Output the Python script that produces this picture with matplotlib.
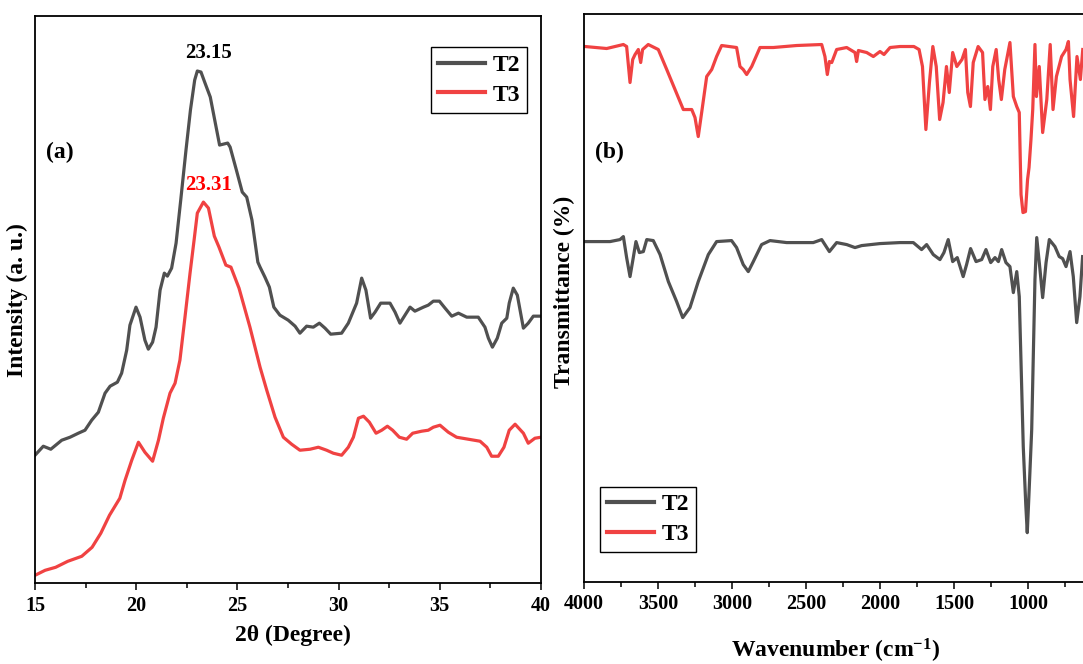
import matplotlib
matplotlib.use("Agg")
import matplotlib.pyplot as plt
from matplotlib.ticker import MultipleLocator, FixedLocator

# ---------------- data ----------------
# (a) XRD, intensity in arbitrary units
xrd_theta_T2 = [15.00, 15.41, 15.78, 16.32, 16.73, 17.14, 17.47, 17.80, 18.13, 18.46,
                18.71, 19.07, 19.28, 19.53, 19.69, 19.99, 20.19, 20.43, 20.60, 20.81,
                20.98, 21.18, 21.39, 21.54, 21.75, 21.97, 22.20, 22.46, 22.68, 22.89,
                23.02, 23.20, 23.40, 23.66, 23.88, 24.12, 24.52, 24.64, 24.95, 25.24,
                25.46, 25.72, 26.01, 26.12, 26.36, 26.58, 26.80, 27.10, 27.51, 27.85,
                28.09, 28.42, 28.75, 29.05, 29.33, 29.61, 30.15, 30.48, 30.89, 31.14,
                31.35, 31.58, 31.80, 32.08, 32.54, 32.79, 33.03, 33.28, 33.53, 33.77,
                34.19, 34.43, 34.68, 34.98, 35.26, 35.59, 35.92, 36.33, 36.90, 37.23,
                37.40, 37.60, 37.84, 38.06, 38.31, 38.43, 38.63, 38.83, 39.13, 39.37,
                39.62, 40.00]
xrd_T2 = [128, 137, 134, 143, 146, 150, 153, 163, 171, 190,
          197, 201, 210, 233, 258, 276, 266, 243, 234, 241,
          256, 293, 310, 307, 315, 340, 383, 433, 473, 503,
          512, 511, 500, 486, 463, 438, 440, 436, 413, 391,
          386, 363, 321, 316, 306, 296, 276, 268, 263, 257,
          250, 257, 256, 260, 255, 249, 250, 260, 280, 305,
          293, 265, 271, 280, 280, 271, 260, 268, 276, 272,
          276, 278, 282, 282, 275, 267, 270, 266, 266, 256,
          245, 236, 245, 260, 265, 280, 295, 288, 255, 260,
          267, 267]

xrd_theta_T3 = [15.00, 15.50, 16.02, 16.62, 17.31, 17.82, 18.25, 18.68, 19.19, 19.45,
                19.78, 20.11, 20.43, 20.81, 21.10, 21.34, 21.67, 21.92, 22.16, 22.41,
                22.66, 22.86, 23.02, 23.32, 23.57, 23.86, 24.09, 24.43, 24.68, 25.08,
                25.62, 26.12, 26.45, 26.86, 27.27, 27.68, 28.09, 28.59, 29.00, 29.41,
                29.74, 30.15, 30.48, 30.73, 30.98, 31.23, 31.52, 31.85, 32.13, 32.41,
                32.67, 33.00, 33.36, 33.66, 34.10, 34.43, 34.68, 35.01, 35.42, 35.83,
                36.41, 36.99, 37.32, 37.56, 37.89, 38.17, 38.43, 38.72, 39.13, 39.37,
                39.70, 40.00]
xrd_T3 = [8, 13, 16, 22, 27, 36, 50, 68, 85, 103,
          123, 141, 131, 122, 143, 165, 190, 200, 223, 266,
          310, 343, 370, 381, 375, 347, 336, 318, 316, 295,
          256, 216, 193, 166, 146, 139, 133, 134, 136, 133,
          130, 128, 136, 146, 165, 167, 161, 150, 153, 157,
          153, 146, 144, 150, 152, 153, 156, 158, 151, 146,
          144, 142, 136, 127, 127, 136, 153, 159, 150, 140,
          145, 146]

peak_T2 = "23.15"
peak_T3 = "23.31"
xrd_ticks = [15, 20, 25, 30, 35, 40]

# (b) FTIR, transmittance in arbitrary units (offset traces)
ftir_wn_T2 = [3993, 3824, 3757, 3734, 3712, 3689, 3667, 3649, 3626, 3599,
              3576, 3532, 3486, 3430, 3374, 3333, 3284, 3228, 3160, 3104,
              3003, 2969, 2924, 2890, 2856, 2800, 2743, 2631, 2451, 2394,
              2342, 2293, 2225, 2169, 2124, 2000, 1865, 1775, 1719, 1685,
              1640, 1595, 1568, 1539, 1509, 1478, 1438, 1415, 1388, 1351,
              1313, 1284, 1252, 1223, 1200, 1178, 1149, 1122, 1099, 1076,
              1059, 1032, 1015, 1005, 995, 975, 953, 941, 919, 901,
              878, 856, 818, 789, 766, 743, 716, 694, 671, 649,
              631]
ftir_T2 = [340, 340, 342, 345, 324, 305, 324, 340, 329, 330,
           342, 341, 327, 300, 280, 264, 274, 300, 327, 340,
           341, 334, 317, 310, 320, 337, 341, 339, 339, 342,
           330, 339, 337, 334, 336, 338, 339, 339, 332, 337,
           327, 322, 329, 342, 320, 324, 305, 317, 333, 320,
           322, 332, 319, 324, 320, 332, 319, 315, 289, 310,
           285, 135, 77, 49, 82, 152, 302, 344, 312, 284,
           319, 342, 335, 325, 323, 315, 330, 305, 259, 285,
           325]

ftir_wn_T3 = [3993, 3847, 3734, 3712, 3689, 3671, 3655, 3633, 3617, 3604,
              3566, 3498, 3441, 3385, 3329, 3272, 3250, 3228, 3205, 3171,
              3137, 3104, 3070, 2969, 2946, 2924, 2901, 2867, 2811, 2721,
              2563, 2394, 2372, 2356, 2342, 2326, 2293, 2225, 2169, 2158,
              2146, 2090, 2045, 2000, 1973, 1932, 1865, 1771, 1736, 1713,
              1690, 1666, 1643, 1620, 1597, 1574, 1551, 1532, 1509, 1481,
              1446, 1423, 1407, 1389, 1370, 1337, 1307, 1291, 1272, 1254,
              1238, 1215, 1198, 1180, 1157, 1122, 1099, 1076, 1059, 1047,
              1034, 1017, 1003, 993, 980, 968, 953, 943, 924, 901,
              873, 850, 831, 808, 773, 743, 727, 716, 692, 669,
              646, 630]
ftir_T3 = [535, 533, 537, 535, 499, 522, 527, 532, 519, 532,
           537, 532, 512, 492, 472, 472, 464, 445, 469, 505,
           512, 525, 536, 534, 515, 512, 507, 515, 534, 534,
           536, 537, 525, 507, 520, 519, 532, 534, 529, 520,
           531, 529, 525, 530, 527, 534, 535, 535, 532, 515,
           452, 499, 535, 515, 462, 479, 515, 489, 529, 515,
           522, 532, 489, 475, 519, 535, 529, 482, 495, 472,
           515, 532, 502, 482, 512, 539, 485, 475, 469, 387,
           369, 370, 402, 414, 442, 472, 537, 485, 515, 449,
           482, 537, 472, 505, 525, 532, 540, 502, 465, 525,
           502, 532]

ftir_major_ticks = [4000, 3500, 3000, 2500, 2000, 1500, 1000]
ftir_minor_ticks = [3750, 3250, 2750, 2250, 1750, 1250, 750]

series_names = ["T2", "T3"]

# ---------------- style ----------------
plt.rcParams['font.family'] = ['Liberation Serif', 'DejaVu Serif']
plt.rcParams['font.weight'] = 'bold'
plt.rcParams['mathtext.fontset'] = 'custom'
plt.rcParams['mathtext.rm'] = 'Liberation Serif:bold'
plt.rcParams['mathtext.bf'] = 'Liberation Serif:bold'
plt.rcParams['mathtext.default'] = 'bf'

GREY = '#505050'
RED = '#f04242'
LW = 2.3

W, H = 1083, 664
fig = plt.figure(figsize=(W / 100, H / 100), dpi=100)

def frac(x0, y_top, x1, y_bot):
    return [x0 / W, 1 - y_bot / H, (x1 - x0) / W, (y_bot - y_top) / H]

axA = fig.add_axes(frac(35, 16, 541, 583.3))
axB = fig.add_axes(frac(584, 13.5, 584 + 3600 * 0.148, 581.7))

for ax in (axA, axB):
    for sp in ax.spines.values():
        sp.set_linewidth(1.3)
        sp.set_color('black')
    ax.tick_params(axis='x', which='major', direction='out', length=5, width=1.1,
                   labelsize=14.5, pad=4)
    ax.tick_params(axis='x', which='minor', direction='out', length=3.5, width=1.1)
    ax.tick_params(axis='y', which='both', left=False, right=False, labelleft=False)

# ---------- (a) XRD ----------
axA.plot(xrd_theta_T2, xrd_T2, color=GREY, lw=LW, label=series_names[0])
axA.plot(xrd_theta_T3, xrd_T3, color=RED, lw=LW, label=series_names[1])
axA.set_xlim(15, 40)
axA.set_ylim(0, 567)
axA.xaxis.set_major_locator(FixedLocator(xrd_ticks))
axA.xaxis.set_minor_locator(MultipleLocator(2.5))
axA.set_xlabel('2θ (Degree)', fontsize=17, fontweight='bold')
axA.xaxis.set_label_coords(0.51, -0.074)
axA.set_ylabel('Intensity (a. u.)', fontsize=17, fontweight='bold')
axA.yaxis.set_label_coords(-0.014, 0.5)
axA.text(23.57, 530, peak_T2, color='black', fontsize=15, fontweight='bold',
         ha='center', va='center')
axA.text(23.57, 398, peak_T3, color='red', fontsize=15, fontweight='bold',
         ha='center', va='center')
axA.text(0.049, 0.760, '(a)', transform=axA.transAxes, fontsize=17,
         fontweight='bold', ha='center', va='center')
legA = axA.legend(loc='upper right', bbox_to_anchor=(0.972, 0.945), borderaxespad=0,
                  frameon=True, fancybox=False, edgecolor='black', framealpha=1,
                  prop={'size': 17, 'weight': 'bold'}, handlelength=2.0,
                  handletextpad=0.3, borderpad=0.3, labelspacing=0.35)
legA.get_frame().set_linewidth(1.0)
for l in legA.get_lines():
    l.set_linewidth(3.0)

# ---------- (b) FTIR ----------
axB.plot(ftir_wn_T2, ftir_T2, color=GREY, lw=LW, label=series_names[0])
axB.plot(ftir_wn_T3, ftir_T3, color=RED, lw=LW, label=series_names[1])
axB.set_xlim(4000, 400)
axB.set_ylim(0, 568)
axB.xaxis.set_major_locator(FixedLocator(ftir_major_ticks))
axB.xaxis.set_minor_locator(FixedLocator(ftir_minor_ticks))
axB.set_xlabel('Wavenumber (cm$^{-1}$)', fontsize=17, fontweight='bold')
axB.xaxis.set_label_coords(0.473, -0.097)
axB.set_ylabel('Transmittance (%)', fontsize=17, fontweight='bold')
axB.yaxis.set_label_coords(-0.017, 0.51)
axB.text(0.047, 0.756, '(b)', transform=axB.transAxes, fontsize=17,
         fontweight='bold', ha='center', va='center')
legB = axB.legend(loc='lower left', bbox_to_anchor=(0.030, 0.052), borderaxespad=0,
                  frameon=True, fancybox=False, edgecolor='black', framealpha=1,
                  prop={'size': 17, 'weight': 'bold'}, handlelength=2.0,
                  handletextpad=0.3, borderpad=0.3, labelspacing=0.35)
legB.get_frame().set_linewidth(1.0)
for l in legB.get_lines():
    l.set_linewidth(3.0)

fig.savefig('out.png', dpi=100)
